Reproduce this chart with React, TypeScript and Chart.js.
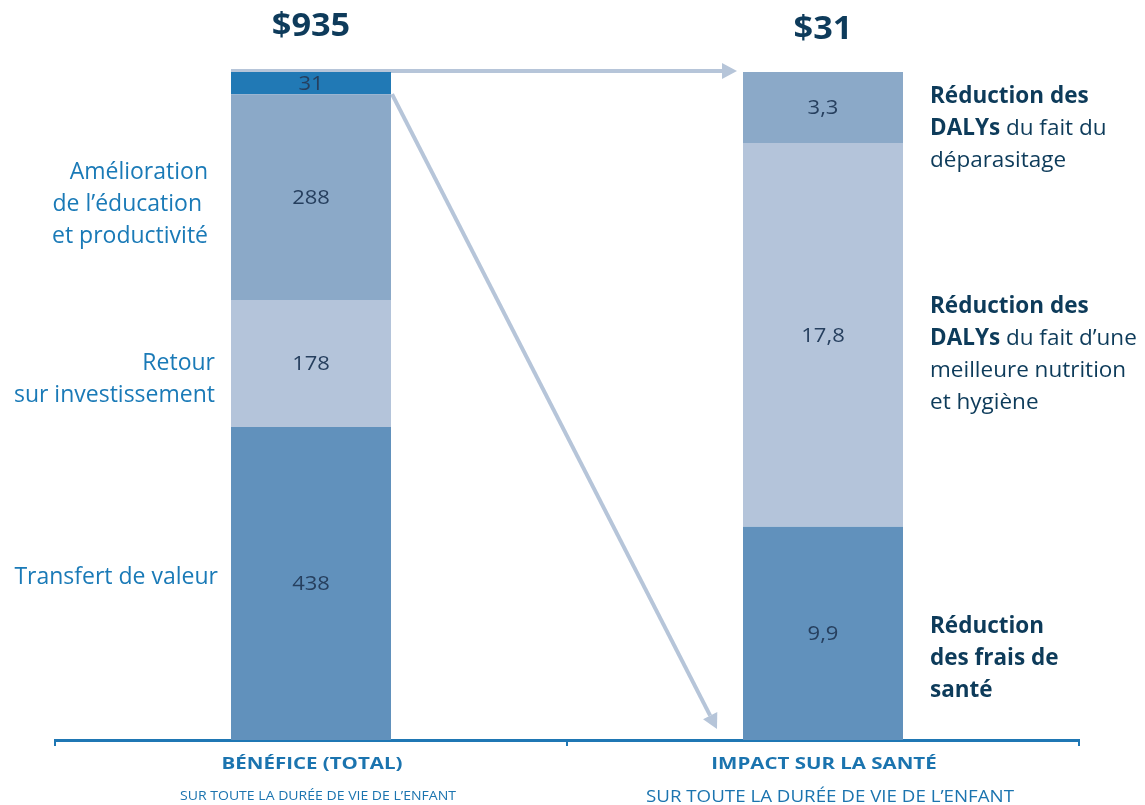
import React, { useEffect, useRef } from "react";
import { Chart, registerables } from "chart.js";

Chart.register(...registerables);

// ---------- DATA ----------
const categories = ["BÉNÉFICE (TOTAL)", "IMPACT SUR LA SANTÉ"];
const subtitles = [
  "SUR TOUTE LA DURÉE DE VIE DE L’ENFANT",
  "SUR TOUTE LA DURÉE DE VIE DE L’ENFANT",
];
// stacked layers, bottom to top: [Bénéfice, Impact santé]
const layer1 = [438, 9.9];
const layer2 = [178, 17.8];
const layer3 = [288, 3.3];
const layer4 = [31, null];
const layers = [layer1, layer2, layer3, layer4];

const leftLabels: (string[] | null)[] = [
  ["Transfert de valeur"],
  ["Retour", "sur investissement"],
  ["Amélioration", "de l’éducation ", "et productivité"],
  null,
];
type Run = [string, boolean];
const rightLabels: (Run[][] | null)[] = [
  [[["Réduction", true]], [["des frais de", true]], [["santé", true]]],
  [
    [["Réduction des", true]],
    [["DALYs", true], [" du fait d’une", false]],
    [["meilleure nutrition", false]],
    [["et hygiène", false]],
  ],
  [
    [["Réduction des", true]],
    [["DALYs", true], [" du fait du", false]],
    [["déparasitage", false]],
  ],
  null,
];

// ---------- STYLE ----------
const layerColors = ["#6191bc", "#b4c4da", "#8ba9c8", "#2179b5"];
const leftLabelDy = [-6, 16, 7, 0];
const leftLabelDx = [-13, -16, -23, 0];
const rightLabelDy = [25, 20, 21, 0];
const FONT = "'Open Sans', Lato, sans-serif";

const totals = categories.map((_, i) =>
  layers.reduce((s, l) => s + (l[i] ?? 0), 0)
);
const fmt = (v: number) => String(Math.round(v * 10) / 10).replace(".", ",");

function drawArrow(
  ctx: CanvasRenderingContext2D,
  x0: number,
  y0: number,
  x1: number,
  y1: number
) {
  const headLen = 15;
  const headHalf = 8;
  const ang = Math.atan2(y1 - y0, x1 - x0);
  const bx = x1 - headLen * Math.cos(ang);
  const by = y1 - headLen * Math.sin(ang);
  ctx.save();
  ctx.strokeStyle = "#b6c5d9";
  ctx.fillStyle = "#b6c5d9";
  ctx.lineWidth = 4;
  ctx.beginPath();
  ctx.moveTo(x0, y0);
  ctx.lineTo(bx, by);
  ctx.stroke();
  ctx.beginPath();
  ctx.moveTo(x1, y1);
  ctx.lineTo(bx + headHalf * Math.sin(ang), by - headHalf * Math.cos(ang));
  ctx.lineTo(bx - headHalf * Math.sin(ang), by + headHalf * Math.cos(ang));
  ctx.closePath();
  ctx.fill();
  ctx.restore();
}

function wideText(
  ctx: CanvasRenderingContext2D,
  text: string,
  x: number,
  y: number,
  sx: number
) {
  ctx.save();
  ctx.translate(x, y);
  ctx.scale(sx, 1);
  ctx.fillText(text, 0, 0);
  ctx.restore();
}

const annotPlugin = {
  id: "annot",
  beforeDatasetsDraw(chart: any) {
    const ctx = chart.ctx as CanvasRenderingContext2D;
    const y = chart.scales.y;
    const m3 = chart.getDatasetMeta(3).data[0];
    const m2 = chart.getDatasetMeta(2).data[0];
    const r0 = chart.getDatasetMeta(0).data[1];
    const half = m3.width / 2;
    const top = y.getPixelForValue(100) - 1;
    drawArrow(ctx, m3.x - half, top, r0.x - r0.width / 2 - 6, top);
    drawArrow(
      ctx,
      m2.x + half + 1,
      m2.y,
      r0.x - r0.width / 2 - 26,
      y.getPixelForValue(0) - 11
    );
  },
  afterDatasetsDraw(chart: any) {
    const ctx = chart.ctx as CanvasRenderingContext2D;
    const area = chart.chartArea;
    ctx.save();
    ctx.textBaseline = "middle";

    // values in bars + side labels
    layers.forEach((layer, li) => {
      const meta = chart.getDatasetMeta(li);
      layer.forEach((v, ci) => {
        if (v == null) return;
        const el = meta.data[ci];
        const cy = (el.y + el.base) / 2;
        ctx.textAlign = "center";
        ctx.fillStyle = "#263f5e";
        ctx.font = `20px ${FONT}`;
        wideText(ctx, fmt(v), el.x, cy + 1, 1.1);

        if (ci === 0 && leftLabels[li]) {
          const lines = leftLabels[li]!;
          const lh = 32;
          const start = cy + leftLabelDy[li] - ((lines.length - 1) * lh) / 2;
          ctx.textAlign = "right";
          ctx.fillStyle = "#1a7ab7";
          ctx.font = `23px ${FONT}`;
          lines.forEach((t, k) =>
            ctx.fillText(t, el.x - el.width / 2 + leftLabelDx[li], start + k * lh)
          );
        }
        if (ci === 1 && rightLabels[li]) {
          const lines = rightLabels[li]!;
          const lh = 32;
          const start = cy + rightLabelDy[li] - ((lines.length - 1) * lh) / 2;
          ctx.textAlign = "left";
          ctx.fillStyle = "#0d3b5a";
          lines.forEach((runs, k) => {
            let x = el.x + el.width / 2 + 27;
            runs.forEach(([t, b]) => {
              ctx.font = `${b ? "bold " : ""}22.5px ${FONT}`;
              ctx.fillText(t, x, start + k * lh);
              x += ctx.measureText(t).width;
            });
          });
        }
      });
    });

    // totals above bars + category labels
    const xs = chart.scales.x;
    categories.forEach((c, i) => {
      const cx = xs.getPixelForValue(i);
      ctx.textAlign = "center";
      ctx.fillStyle = "#0e3b5b";
      ctx.font = `bold 33px ${FONT}`;
      wideText(ctx, "$" + fmt(totals[i]), cx, 27 + i * 3, 1.04);
      ctx.fillStyle = "#1b74af";
      ctx.font = `bold 16px ${FONT}`;
      wideText(ctx, c, cx + 1, area.bottom + 24, 1.28);
      ctx.font = `${i === 0 ? 12 : 16}px ${FONT}`;
      wideText(ctx, subtitles[i], cx + 7, area.bottom + 57, 1.17);
    });
    ctx.restore();
  },
};

export default function App() {
  const ref = useRef<HTMLCanvasElement>(null);
  useEffect(() => {
    const chart = new Chart(ref.current!, {
      type: "bar",
      data: {
        labels: categories,
        datasets: layers.map((layer, li) => ({
          label: "layer" + li,
          data: layer.map((v, ci) => (v == null ? null : (v / totals[ci]) * 100)),
          backgroundColor: layerColors[li],
          borderWidth: 0,
          barPercentage: 0.3125,
          categoryPercentage: 1,
        })),
      },
      options: {
        responsive: false,
        animation: false,
        layout: { padding: { left: 55, right: 66, top: 72, bottom: 59 } },
        plugins: { legend: { display: false }, tooltip: { enabled: false } },
        scales: {
          x: {
            stacked: true,
            ticks: { display: false },
            grid: {
              display: true,
              drawOnChartArea: false,
              drawTicks: true,
              tickLength: 6,
              color: "#1f77b4",
              lineWidth: 2,
            },
            border: { display: true, color: "#1f77b4", width: 3 },
          },
          y: { stacked: true, display: false, min: 0, max: 100 },
        },
      },
      plugins: [annotPlugin],
    });
    return () => chart.destroy();
  }, []);
  return (
    <div style={{ position: "absolute", left: 0, top: 0, width: 1145, height: 805, background: "#fff" }}>
      <canvas ref={ref} width={1145} height={805} />
    </div>
  );
}
